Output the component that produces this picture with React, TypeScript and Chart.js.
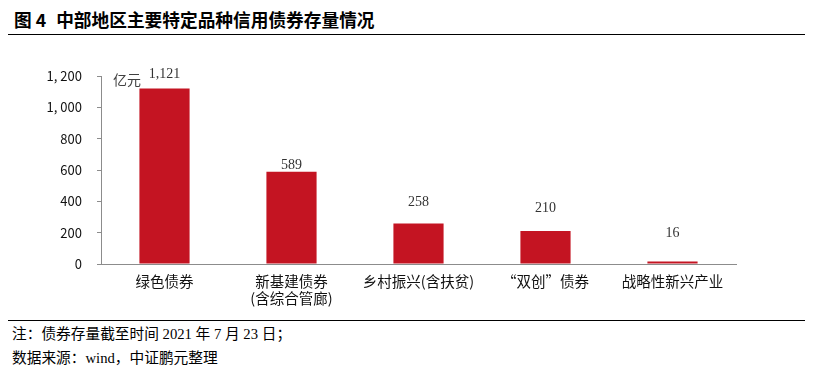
import React, { useEffect, useRef } from "react";
import { Chart, registerables } from "chart.js";
Chart.register(...registerables);

const categories: (string | string[])[] = [
  "绿色债券",
  ["新基建债券", "(含综合管廊)"],
  "乡村振兴(含扶贫)",
  "“双创”债券",
  "战略性新兴产业",
];
const values = [1121, 589, 258, 210, 16];
const valueLabels = ["1,121", "589", "258", "210", "16"];
const yMax = 1200;
const yStep = 200;
const unitLabel = "亿元";
const titleFig = "图 4";
const titleText = "中部地区主要特定品种信用债券存量情况";
const note1 = "注：债券存量截至时间 2021 年 7 月 23 日；";
const note2 = "数据来源：wind，中证鹏元整理";

const SANS = "'Noto Sans CJK SC', 'Liberation Sans', sans-serif";
const SERIF = "'Liberation Serif', 'Noto Sans CJK SC', serif";

// label gap above each bar top (px), as placed in the original
const LABEL_GAPS = [14, 6, 21, 23, 28];

const labelPlugin = {
  id: "valueLabels",
  afterDatasetsDraw(chart: any) {
    const ctx = chart.ctx;
    const meta = chart.getDatasetMeta(0);
    ctx.save();
    ctx.font = `14px ${SERIF}`;
    ctx.fillStyle = "#333";
    ctx.textAlign = "center";
    ctx.textBaseline = "middle";
    meta.data.forEach((bar: any, i: number) => {
      ctx.fillText(valueLabels[i], bar.x, bar.y - LABEL_GAPS[i]);
    });
    ctx.font = `14px ${SANS}`;
    ctx.fillStyle = "#404040";
    ctx.textAlign = "left";
    ctx.textBaseline = "middle";
    ctx.fillText(unitLabel, chart.chartArea.left + 12, chart.chartArea.top + 4);
    ctx.restore();
  },
};

function ChartView() {
  const ref = useRef<HTMLCanvasElement>(null);
  useEffect(() => {
    if (!ref.current) return;
    const chart = new Chart(ref.current, {
      type: "bar",
      data: {
        labels: categories,
        datasets: [
          {
            data: values,
            backgroundColor: "#C41422",
            barPercentage: 0.79,
            categoryPercentage: 0.5,
          },
        ],
      },
      options: {
        animation: false,
        responsive: false,
        maintainAspectRatio: false,
        layout: { padding: { top: 36, right: 77, left: 0, bottom: 0 } },
        plugins: { legend: { display: false }, tooltip: { enabled: false } },
        scales: {
          x: {
            grid: { display: false, drawTicks: false },
            border: { color: "#8c8c8c", width: 1 },
            ticks: {
              color: "#111",
              font: { family: SANS, size: 14.5, lineHeight: 1.15 },
              padding: 9,
              maxRotation: 0,
              autoSkip: false,
            },
            afterFit: (s: any) => {
              s.height = 54;
            },
          },
          y: {
            min: 0,
            max: yMax,
            grid: { drawOnChartArea: false, tickLength: 4, color: "#8c8c8c" },
            border: { color: "#8c8c8c", width: 1 },
            ticks: {
              stepSize: yStep,
              color: "#111",
              font: { family: SANS, size: 13 },
              padding: 15,
              callback: (v: any) => {
                const n = Number(v);
                if (n >= 1000) {
                  const s = String(n);
                  return s.slice(0, s.length - 3) + ", " + s.slice(-3);
                }
                return String(n);
              },
            },
            afterFit: (s: any) => {
              s.width = 101;
            },
          },
        },
      },
      plugins: [labelPlugin],
    });
    return () => chart.destroy();
  }, []);
  return (
    <canvas
      ref={ref}
      width={813}
      height={278}
      style={{ position: "absolute", left: 0, top: 40, width: 813, height: 278 }}
    />
  );
}

export default function App() {
  return (
    <div
      style={{
        position: "fixed",
        left: 0,
        top: 0,
        width: 813,
        height: 371,
        background: "#fff",
        overflow: "hidden",
      }}
    >
      <div
        style={{
          position: "absolute",
          left: 14,
          top: 7,
          fontFamily: SANS,
          fontWeight: "bold",
          fontSize: 17.7,
          lineHeight: "24px",
          color: "#000",
          whiteSpace: "pre",
        }}
      >
        <span>{titleFig}</span>
        <span style={{ marginLeft: 10 }}>{titleText}</span>
      </div>
      <div style={{ position: "absolute", left: 8, top: 34, width: 797, height: 1, background: "#000" }} />
      <ChartView />
      <div style={{ position: "absolute", left: 8, top: 320, width: 797, height: 1, background: "#000" }} />
      <div
        style={{
          position: "absolute",
          left: 12,
          top: 322,
          fontFamily: SERIF,
          fontSize: 14.7,
          lineHeight: "24px",
          color: "#000",
          whiteSpace: "pre",
        }}
      >
        <div>{note1}</div>
        <div>{note2}</div>
      </div>
    </div>
  );
}
